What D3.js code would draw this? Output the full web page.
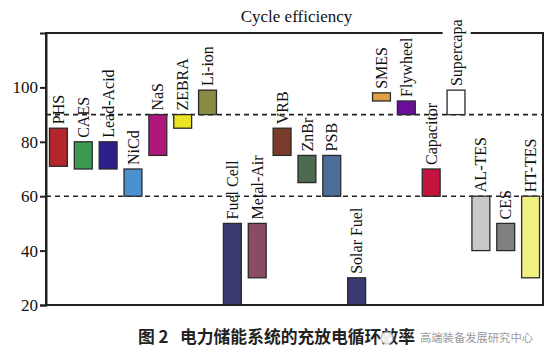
<!DOCTYPE html>
<html>
<head>
<meta charset="utf-8">
<script src="https://cdn.jsdelivr.net/npm/d3@7"></script>
<style>
  html, body { margin: 0; padding: 0; background: #fff; }
  svg { display: block; }
</style>
</head>
<body>
<svg id="chart" width="551" height="355"></svg>
<script>
// ---- data ----
const categories = ["PHS","CAES","Lead-Acid","NiCd","NaS","ZEBRA","Li-ion","Fuel Cell","Metal-Air","VRB","ZnBr","PSB","Solar Fuel","SMES","Flywheel","Capacitor","Supercapa","AL-TES","CES","HT-TES"];
const lowValues  = [71, 70, 70, 60, 75, 85, 90, 20, 30, 75, 65, 60, 20, 95, 90, 60, 90, 40, 40, 30];
const highValues = [85, 80, 80, 70, 90, 90, 99, 50, 50, 85, 75, 75, 30, 98, 95, 70, 99, 60, 50, 60];
const barColors  = ["#b3262b","#3c9b50","#2b1f8c","#4b90cf","#b0177c","#e9e424","#8a8b45","#3b3a72","#8b4b64","#7b3b2b","#4d6b4f","#4b6d9a","#3b3a72","#e0a046","#6a0d9b","#c2143f","#ffffff","#c9c9c9","#808080","#f1f083"];
const yTicks = [20, 40, 60, 80, 100];
const refLines = [60, 90];
const titleText = "Cycle efficiency";
const captionLabel = "图 2";
const captionText = "电力储能系统的充放电循环效率";
const watermarkText = "高端装备发展研究中心";

(function () {
// ---- layout ----
const svg = d3.select("#chart");
const mLeft = 46, mRight = 543, mTop = 33, mBottom = 305;
const serif = "'Liberation Serif', 'DejaVu Serif', serif";

const x = d3.scaleBand().domain(categories).range([mLeft, mRight]).paddingInner(0.28).paddingOuter(0.14);
const y = d3.scaleLinear().domain([20, 120]).range([mBottom, mTop]);

const data = categories.map((c, i) => ({ name: c, lo: lowValues[i], hi: highValues[i], color: barColors[i] }));

// reference dashed lines
svg.selectAll("line.ref").data(refLines).enter().append("line")
  .attr("class", "ref")
  .attr("x1", mLeft).attr("x2", mRight)
  .attr("y1", d => y(d)).attr("y2", d => y(d))
  .attr("stroke", "#222").attr("stroke-width", 1.6)
  .attr("stroke-dasharray", "5,4");

// bars
svg.selectAll("rect.bar").data(data).enter().append("rect")
  .attr("class", "bar")
  .attr("x", d => x(d.name))
  .attr("width", x.bandwidth())
  .attr("y", d => y(d.hi))
  .attr("height", d => y(d.lo) - y(d.hi))
  .attr("fill", d => d.color)
  .attr("stroke", "#2a2a2a")
  .attr("stroke-width", 1.3);

// frame
svg.append("rect")
  .attr("x", mLeft).attr("y", mTop)
  .attr("width", mRight - mLeft).attr("height", mBottom - mTop)
  .attr("fill", "none").attr("stroke", "#222").attr("stroke-width", 2);

// left axis
const yAxis = d3.axisLeft(y).tickValues(yTicks).tickSize(6).tickPadding(2);
const ag = svg.append("g").attr("transform", `translate(${mLeft},0)`).call(yAxis);
ag.select(".domain").attr("stroke", "#222").attr("stroke-width", 2);
ag.selectAll(".tick line").attr("stroke", "#222").attr("stroke-width", 2);
ag.selectAll(".tick text").attr("font-family", serif).attr("font-size", 17).attr("fill", "#111");

// labels
const labels = svg.selectAll("g.lbl").data(data).enter().append("g")
  .attr("class", "lbl")
  .attr("transform", d => `translate(${x(d.name) + x.bandwidth() / 2}, ${y(d.hi) - 4}) rotate(-90)`);
labels.each(function(d) {
  const g = d3.select(this);
  const t = g.append("text")
    .attr("text-anchor", "start")
    .attr("dy", "0.35em")
    .attr("font-family", serif)
    .attr("font-size", 16)
    .attr("fill", "#111")
    .text(d.name);
  const bb = t.node().getBBox();
  if (y(d.hi) - 4 - bb.width < mTop + 2) {
    g.insert("rect", "text")
      .attr("x", bb.x - 1).attr("y", bb.y - 5)
      .attr("width", bb.width + 2).attr("height", bb.height + 10)
      .attr("fill", "#fff");
  }
});

// title
svg.append("text")
  .attr("x", (mLeft + mRight) / 2 + 2).attr("y", 22)
  .attr("text-anchor", "middle")
  .attr("font-family", serif).attr("font-size", 17).attr("fill", "#111")
  .text(titleText);

// caption
svg.append("text")
  .attr("x", 138).attr("y", 343)
  .attr("font-family", "'Noto Sans CJK SC', sans-serif").attr("font-size", 16.8).attr("font-weight", "bold").attr("fill", "#222")
  .text(captionLabel);
svg.append("text")
  .attr("x", 180).attr("y", 343)
  .attr("font-family", "'Noto Sans CJK SC', sans-serif").attr("font-size", 16.8).attr("font-weight", "bold").attr("fill", "#222")
  .text(captionText);

// watermark
svg.append("circle").attr("cx", 387).attr("cy", 338).attr("r", 6)
  .attr("fill", "#fff").attr("stroke", "#bbb").attr("stroke-width", 1.2).attr("opacity", 0.9);
svg.append("text")
  .attr("x", 420).attr("y", 342)
  .attr("font-family", "'Noto Sans CJK SC', sans-serif").attr("font-size", 11.3).attr("fill", "#9a9a9a")
  .text(watermarkText);
})();
</script>
</body>
</html>
